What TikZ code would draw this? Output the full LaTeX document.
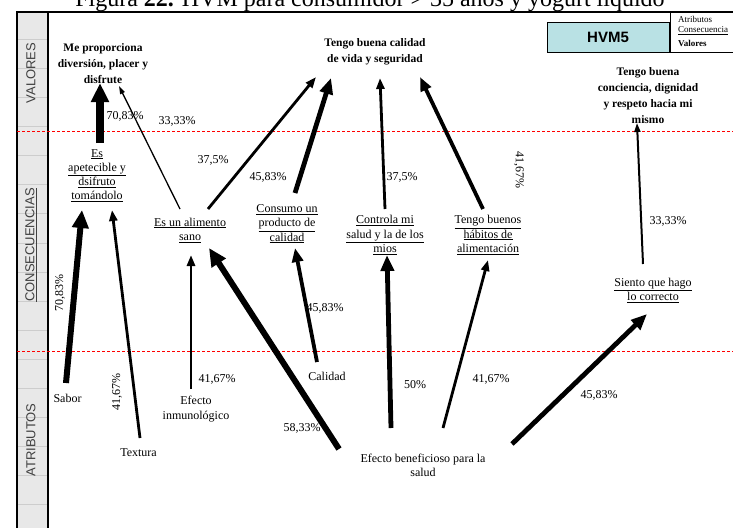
\documentclass[tikz,border=0pt]{standalone}
\usepackage{fontspec}
\setmainfont{Liberation Serif}
\setsansfont{Liberation Sans}
\usetikzlibrary{arrows.meta}

\definecolor{bandgray}{HTML}{E8E8E8}
\definecolor{gridgray}{HTML}{CDCDCD}
\definecolor{labgray}{HTML}{404040}
\definecolor{hvmfill}{HTML}{B9E1E4}

\tikzset{
  txt/.style={inner sep=0pt, align=center, font=\fontsize{12}{14.2}\selectfont},
  valor/.style={inner sep=0pt, align=center, font=\bfseries\fontsize{11.5}{16}\selectfont},
  pct/.style={inner sep=0pt, font=\fontsize{12}{14}\selectfont},
  band/.style={inner sep=0pt, rotate=90, text=labgray, font=\sffamily\fontsize{13}{15}\selectfont},
  a1/.style={line width=1.3pt, -{Triangle[length=8pt,width=5pt]}},
  a2/.style={line width=2pt, -{Triangle[length=9pt,width=6pt]}},
  a3/.style={line width=2.8pt, -{Triangle[length=11pt,width=8pt]}},
  a4/.style={line width=3.8pt, -{Triangle[length=14pt,width=11pt]}},
  a5/.style={line width=4.8pt, -{Triangle[length=16pt,width=13pt]}},
  a6/.style={line width=6pt, -{Triangle[length=18pt,width=16pt]}},
  a7/.style={line width=7.5pt, -{Triangle[length=19pt,width=17pt]}},
  limite/.style={red, line width=0.7pt, dash pattern=on 3pt off 2pt},
}

\begin{document}
\begin{tikzpicture}[x=1pt,y=-1pt]
\useasboundingbox (0,0) rectangle (733,528);

% title
\node[anchor=base, inner sep=0pt, font=\fontsize{24}{28}\selectfont] (titulo) at (370,6)
  {Figura \textbf{22.} HVM para consumidor > 35 años y yogurt líquido};

% level band on the left
\fill[bandgray] (17,12) rectangle (48,528);
\foreach \k in {1,...,17} {
  \draw[gridgray, line width=0.6pt] (17,{10+29.1*\k}) -- (48,{10+29.1*\k});
}
\node[band] (lvalores) at (31,73) {VALORES};
\node[band] (lconsec) at (31,245) {\underline{CONSECUENCIAS}};
\node[band] (latrib) at (31,440) {ATRIBUTOS};

% frame
\draw[line width=2pt] (17,11) -- (17,528);
\draw[line width=1.2pt] (48,12) -- (48,528);
\draw[line width=2pt] (16,12) -- (733,12);

% level separators
\draw[limite] (17,131) -- (733,131);
\draw[limite] (17,351) -- (733,351);

% header box and legend
\node[draw, line width=0.8pt, fill=hvmfill, minimum width=122pt, minimum height=30pt,
      inner sep=0pt, font=\sffamily\bfseries\fontsize{15}{17}\selectfont] (hvm) at (608,37) {HVM5};
\draw[line width=0.8pt] (670,12) -- (670,52) -- (733,52);
\node[anchor=west, inner sep=0pt, font=\fontsize{9}{10}\selectfont] (lega) at (678,19) {Atributos};
\node[anchor=west, inner sep=0pt, font=\fontsize{9}{10}\selectfont] (legc) at (678,31) {\underline{Consecuencia}};
\node[anchor=west, inner sep=0pt, font=\bfseries\fontsize{9}{10}\selectfont] (legv) at (678,43) {Valores};

% values
\node[valor] (diversion) at (103,64) {Me proporciona\\diversión, placer y\\disfrute};
\node[valor] (calidadvida) at (375,52) {Tengo buena calidad\\de vida y seguridad};
\node[valor] (conciencia) at (648,96) {Tengo buena\\conciencia, dignidad\\y respeto hacia mi\\mismo};

% consequences
\node[txt] (apetecible) at (97,175.5) {\underline{Es}\\\underline{apetecible y}\\\underline{dsifruto}\\\underline{tomándolo}};
\node[txt] (sano) at (190,230) {\underline{Es un alimento}\\\underline{sano}};
\node[txt] (consumo) at (287,224) {\underline{Consumo un}\\\underline{producto de}\\\underline{calidad}};
\node[txt] (controla) at (385,235) {\underline{Controla mi}\\\underline{salud y la de los}\\\underline{mios}};
\node[txt] (habitos) at (488,235) {\underline{Tengo buenos}\\\underline{hábitos de}\\\underline{alimentación}};
\node[txt] (siento) at (653,290) {\underline{Siento que hago}\\\underline{lo correcto}};

% attributes
\node[txt] (sabor) at (67.5,398) {Sabor};
\node[txt] (textura) at (138.5,453) {Textura};
\node[txt] (inmuno) at (196,409) {Efecto\\inmunológico};
\node[txt] (calidad) at (327,376) {Calidad};
\node[txt] (benef) at (423,465) {Efecto beneficioso para la\\salud};

% connector ends
\coordinate (sabor-o) at (66,383);
\coordinate (textura-o) at (140,438);
\coordinate (apet-i1) at (82,210);
\coordinate (apet-i2) at (112,210);
\coordinate (apet-o) at (100,143);
\coordinate (divers-i1) at (100,83);
\coordinate (divers-i2) at (119,86);
\coordinate (sano-o1) at (180,209);
\coordinate (sano-o2) at (208,209);
\coordinate (sano-i1) at (191,255);
\coordinate (sano-i2) at (209,248);
\coordinate (inmuno-o) at (191,389);
\coordinate (consumo-o) at (295,193);
\coordinate (consumo-i) at (295,248);
\coordinate (calidad-o) at (317,362);
\coordinate (controla-o) at (385,209);
\coordinate (controla-i) at (387,255);
\coordinate (habitos-o) at (483,209);
\coordinate (habitos-i) at (488,260);
\coordinate (vida-i1) at (316,77);
\coordinate (vida-i2) at (331,78);
\coordinate (vida-i3) at (380,78);
\coordinate (vida-i4) at (420,77);
\coordinate (siento-o) at (643,264);
\coordinate (siento-i) at (647,314);
\coordinate (concien-i) at (637,123);
\coordinate (benef-o1) at (339,449);
\coordinate (benef-o2) at (391,428);
\coordinate (benef-o3) at (443,428);
\coordinate (benef-o4) at (512,444);

% attribute -> consequence links
\draw[a6] (sabor-o) -- (apet-i1);
\draw[a3] (textura-o) -- (apet-i2);
\draw[a3] (inmuno-o) -- (sano-i1);
\draw[a4] (calidad-o) -- (consumo-i);
\draw[a6] (benef-o1) -- (sano-i2);
\draw[a5] (benef-o2) -- (controla-i);
\draw[a3] (benef-o3) -- (habitos-i);
\draw[a5] (benef-o4) -- (siento-i);

% consequence -> value links
\draw[a7] (apet-o) -- (divers-i1);
\draw[a1] (sano-o1) -- (divers-i2);
\draw[a3] (sano-o2) -- (vida-i1);
\draw[a5] (consumo-o) -- (vida-i2);
\draw[a3] (controla-o) -- (vida-i3);
\draw[a4] (habitos-o) -- (vida-i4);
\draw[a2] (siento-o) -- (concien-i);

% link percentages
\node[pct, rotate=90] (p1) at (60,293) {70,83\%};
\node[pct, rotate=90] (p2) at (117,392) {41,67\%};
\node[pct] (p3) at (125,116) {70,83\%};
\node[pct] (p4) at (177,121) {33,33\%};
\node[pct] (p5) at (213,160) {37,5\%};
\node[pct] (p6) at (268,177) {45,83\%};
\node[pct] (p7) at (402,177) {37,5\%};
\node[pct, rotate=-90] (p8) at (519,170) {41,67\%};
\node[pct] (p9) at (668,221) {33,33\%};
\node[pct] (p10) at (217,379) {41,67\%};
\node[pct] (p11) at (325,308) {45,83\%};
\node[pct] (p12) at (302,428) {58,33\%};
\node[pct] (p13) at (415,385) {50\%};
\node[pct] (p14) at (491,379) {41,67\%};
\node[pct] (p15) at (599,395) {45,83\%};
\end{tikzpicture}
\end{document}
